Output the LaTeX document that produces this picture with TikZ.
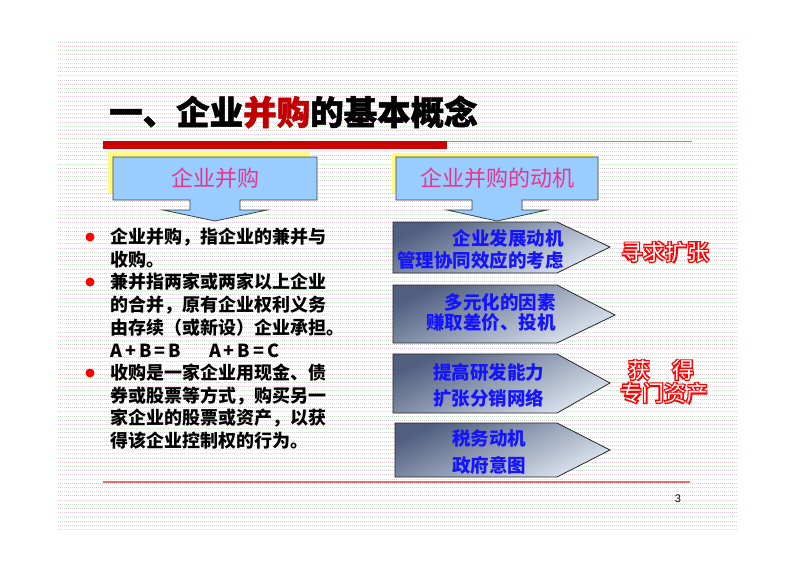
\documentclass[tikz,border=0pt]{standalone}
\usepackage{fontspec}
\setmainfont{Liberation Sans}
\newfontfamily\cjk{Noto Sans CJK SC}
\newfontfamily\cjkfat[FakeBold=7]{Noto Sans CJK SC}
\newfontfamily\cjktitle[FakeBold=1.5,BoldFeatures={FakeBold=1.5}]{Noto Sans CJK SC}
\definecolor{calloutblue}{RGB}{153,204,255}
\definecolor{shadowyellow}{RGB}{255,250,130}
\definecolor{titlered}{RGB}{192,0,0}
\definecolor{pinktext}{RGB}{232,54,143}
\definecolor{boxdark}{RGB}{80,95,128}
\definecolor{boxmid}{RGB}{170,185,208}
\definecolor{boxlight}{RGB}{222,230,240}
\definecolor{bluetext}{RGB}{20,20,255}
\definecolor{barred}{RGB}{204,0,0}
\definecolor{linepink}{RGB}{230,110,110}
\definecolor{stripeA}{RGB}{205,205,205}
\definecolor{stripeB}{RGB}{240,200,215}
\definecolor{stripeC}{RGB}{200,230,200}
\tikzset{
  bodytext/.style={anchor=west, inner sep=0pt, font=\cjk\bfseries\fontsize{18}{20}\selectfont},
  boxtext/.style={inner sep=0pt, text=bluetext, font=\cjk\bfseries\fontsize{18.5}{20}\selectfont},
  callouttext/.style={inner sep=0pt, text=pinktext, font=\cjk\fontsize{22}{24}\selectfont},
  calloutshape/.style={fill=calloutblue, draw=black!75, line width=0.8pt},
  shadowrect/.style={fill=shadowyellow, draw=none},
  pentashape/.style={top color=boxdark, middle color=boxmid, bottom color=boxlight, shading angle=25, draw=black!85, line width=0.8pt},
  bulletdot/.style={circle, fill=red, inner sep=0pt, minimum size=9pt},
  redfat/.style={inner sep=0pt, text=red, font=\cjkfat\bfseries\fontsize{22}{24}\selectfont},
  whitethin/.style={inner sep=0pt, text=white, font=\cjk\fontsize{22}{24}\selectfont},
}
\begin{document}
\begin{tikzpicture}[x=1pt,y=-1pt]
\useasboundingbox (0,0) rectangle (792,560);
\fill[white] (0,0) rectangle (792,560);
% background stripes
\foreach \i in {0,...,116}{
  \pgfmathtruncatemacro\m{mod(\i,3)}
  \ifcase\m
    \draw[stripeA, line width=0.6pt, dash pattern=on 1pt off 1pt] (58,42+4.2*\i) -- (738,42+4.2*\i);
  \or
    \draw[stripeB, line width=0.6pt, dash pattern=on 1pt off 1pt] (58,42+4.2*\i) -- (738,42+4.2*\i);
  \or
    \draw[stripeC, line width=0.6pt, dash pattern=on 1pt off 1pt] (58,42+4.2*\i) -- (738,42+4.2*\i);
  \fi
}
% title
\node[anchor=west, inner sep=0pt, font=\cjktitle\bfseries\fontsize{33.5}{35}\selectfont] (title) at (109,112) {一、企业{\color{titlered}并购}的基本概念};
% top bar
\fill[barred] (103,141) rectangle (447,149);
\draw[linepink, line width=1.2pt] (447,141.5) -- (692,141.5);
% bottom line
\draw[linepink, line width=1.5pt] (103,482) -- (690,482);
% page number
\node[inner sep=0pt, font=\fontsize{11}{12}\selectfont] (pagenum) at (678,499) {3};

% left callout
\fill[shadowrect] (108,152) rectangle (310,193);
\draw[calloutshape] (113,157) -- (317,157) -- (317,200) -- (240,200) -- (240,210) -- (267,210) -- (215,221) -- (163,210) -- (190,210) -- (190,200) -- (113,200) -- cycle;
\node[callouttext] (lefthead) at (215,178) {企业并购};

% right callout
\fill[shadowrect] (392,153) rectangle (593,193);
\draw[calloutshape] (396,157) -- (598,157) -- (598,200) -- (522,200) -- (522,210) -- (547,210) -- (497,221) -- (447,210) -- (472,210) -- (472,200) -- (396,200) -- cycle;
\node[callouttext] (righthead) at (497,178) {企业并购的动机};

% bullets
\node[bulletdot] (b1) at (90,237) {};
\node[bulletdot] (b2) at (90,282) {};
\node[bulletdot] (b3) at (90,373) {};
\node[bodytext] (l1) at (110,237) {企业并购，指企业的兼并与};
\node[bodytext] (l2) at (110,260) {收购。};
\node[bodytext] (l3) at (110,282) {兼并指两家或两家以上企业};
\node[bodytext] (l4) at (110,305) {的合并，原有企业权利义务};
\node[bodytext] (l5) at (110,328) {由存续（或新设）企业承担。};
\node[bodytext] (l6) at (110,351) {A\,+\,B\,=\,B\hspace{28pt}A\,+\,B\,=\,C};
\node[bodytext] (l7) at (110,373) {收购是一家企业用现金、债};
\node[bodytext] (l8) at (110,396) {券或股票等方式，购买另一};
\node[bodytext] (l9) at (110,418) {家企业的股票或资产，以获};
\node[bodytext] (l10) at (110,441) {得该企业控制权的行为。};

% pentagon boxes
\draw[pentashape] (393,222) -- (557,222) -- (610,247) -- (557,273) -- (393,273) -- cycle;
\draw[pentashape] (393,285) -- (557,285) -- (615,315) -- (557,343) -- (393,343) -- cycle;
\draw[pentashape] (393,354) -- (557,354) -- (610,383) -- (557,413) -- (393,413) -- cycle;
\draw[pentashape] (395,423) -- (557,423) -- (610,450) -- (557,477) -- (395,477) -- cycle;

\node[boxtext, anchor=east] (m1a) at (564,238) {企业发展动机};
\node[boxtext, anchor=east] (m1b) at (564,260) {管理协同效应的考虑};
\node[boxtext, anchor=east] (m2a) at (556,302) {多元化的因素};
\node[boxtext, anchor=east] (m2b) at (556,323) {赚取差价、投机};
\node[boxtext, anchor=west] (m3a) at (433,372) {提高研发能力};
\node[boxtext, anchor=west] (m3b) at (433,398) {扩张分销网络};
\node[boxtext, anchor=west] (m4a) at (452,438) {税务动机};
\node[boxtext, anchor=west] (m4b) at (452,465) {政府意图};

% red outlined labels
\node[redfat] (r1) at (665,252) {寻求扩张};
\node[whitethin] (r1w) at (r1.center) {寻求扩张};
\node[redfat] (r2) at (661,370) {获　得};
\node[whitethin] (r2w) at (r2.center) {获　得};
\node[redfat] (r3) at (664,393) {专门资产};
\node[whitethin] (r3w) at (r3.center) {专门资产};
\end{tikzpicture}
\end{document}
